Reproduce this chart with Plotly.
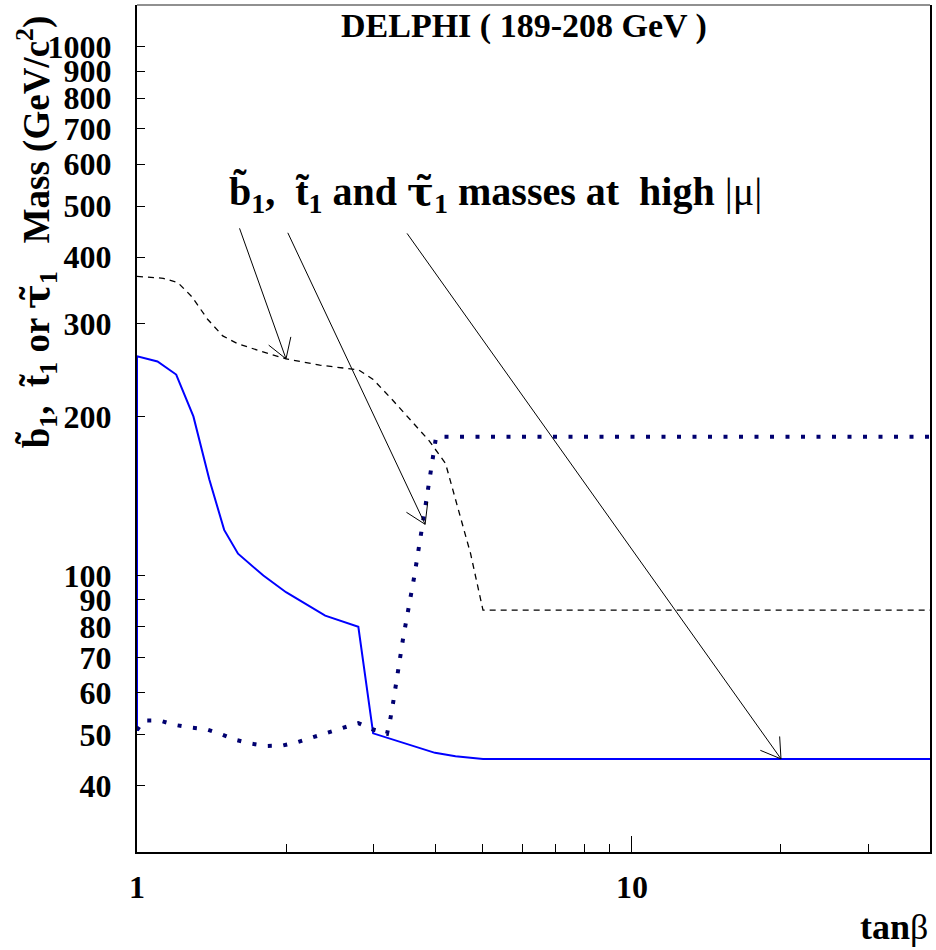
import numpy as np
import plotly.graph_objects as go

# tanb / mass values
tanb_blue = [1.0, 1.0, 1.1, 1.2, 1.3, 1.4, 1.5, 1.6, 1.8, 2.0, 2.4, 2.8, 3.0, 4.0, 4.4, 5.0, 40]
mass_blue = [50.8, 260, 254, 240, 200, 152, 122, 110, 100, 93, 84, 80, 50.3, 46.2, 45.5, 45, 45]

tanb_dash = [1.0, 1.13, 1.21, 1.29, 1.39, 1.49, 1.59, 1.77, 2.0, 2.34, 2.8, 3.0, 3.28, 3.6, 3.89, 4.2, 4.44, 4.72, 5.0, 40]
mass_dash = [368, 365, 358, 337, 305, 284, 275, 266, 257, 250, 245, 235, 215, 195, 180, 163, 135, 110, 86, 86]

tanb_dot = [1.0, 1.03, 1.11, 1.19, 1.28, 1.38, 1.48, 1.58, 1.70, 1.82, 1.97, 2.11, 2.26, 2.43, 2.60, 2.80,
            2.99, 3.2, 3.25, 3.29, 3.45, 3.63, 3.80, 3.98, 4.02, 40]
mass_dot = [51.0, 53.2, 53.2, 52.2, 51.6, 51.2, 50.1, 48.9, 48.1, 47.6, 47.7, 48.4, 49.4, 50.5, 51.6, 52.6,
            51.2, 50.2, 53.6, 57.3, 76.3, 99.3, 130, 172, 183, 183]

y_ticks = [40, 50, 60, 70, 80, 90, 100, 200, 300, 400, 500, 600, 700, 800, 900, 1000]
x_ticks = [1, 10]
x_minor = [2, 3, 4, 5, 6, 7, 8, 9, 20, 30]

# arrow tips (data) and tail offsets (px)
arrow_x = [2.0, 3.82, 20.0]
arrow_y = [257, 125, 45]
arrow_tail = [(-47, -132), (-138, -293), (-375, -527)]

FONT = "Liberation Serif"

fig = go.Figure()
fig.add_trace(go.Scatter(x=tanb_dash, y=mass_dash, mode="lines",
                         line=dict(color="black", width=1.3, dash="6px,5px")))
fig.add_trace(go.Scatter(x=tanb_blue, y=mass_blue, mode="lines",
                         line=dict(color="#0000ff", width=2)))
fig.add_trace(go.Scatter(x=tanb_dot, y=mass_dot, mode="lines",
                         line=dict(color="#000070", width=4, dash="4px,11.5px")))

tickfont = dict(family=FONT, size=32, color="black", weight="bold")
fig.update_layout(
    width=936, height=950,
    margin=dict(l=137, r=4, t=5, b=98),
    plot_bgcolor="white", paper_bgcolor="white",
    showlegend=False,
    xaxis=dict(type="log", range=[0, np.log10(40)], tickvals=x_ticks,
               ticktext=[str(v) for v in x_ticks],
               ticks="inside", ticklen=16, tickwidth=1, tickcolor="black",
               minor=dict(tickvals=x_minor, ticks="inside", ticklen=8, tickwidth=1,
                          tickcolor="black", showgrid=False),
               showline=True, linewidth=2, linecolor="black",
               showgrid=False, zeroline=False, tickfont=tickfont,
               ticklabelstandoff=6),
    yaxis=dict(type="log", range=[np.log10(30), np.log10(1200)], tickvals=y_ticks,
               ticktext=[str(v) for v in y_ticks],
               ticks="inside", ticklen=8, tickwidth=1, tickcolor="black",
               showline=True, linewidth=2, linecolor="black", mirror=True,
               showgrid=False, zeroline=False, tickfont=tickfont,
               ticklabelstandoff=17),
    yaxis2=dict(type="log", range=[np.log10(30), np.log10(1200)], overlaying="y",
                side="left", tickvals=[100, 1000], ticks="inside", ticklen=16,
                tickwidth=1, tickcolor="black", showticklabels=False,
                showline=False, showgrid=False, zeroline=False),
)

# thin top frame line
fig.add_shape(type="line", xref="paper", yref="paper", x0=0, x1=1, y0=1, y1=1,
              line=dict(color="#222", width=1.2))

nb = "\u00a0"
tau = '<span style="font-family:DejaVu Serif">\u03c4\u0303</span>'
ann = []
ann.append(dict(text="<b>DELPHI ( 189-208 GeV )</b>", xref="paper", yref="paper",
                x=0.488, y=0.975, xanchor="center", yanchor="middle", showarrow=False,
                font=dict(family=FONT, size=34, color="black")))
ann.append(dict(text="<b>b\u0303<sub>1</sub>," + nb * 2 + "t\u0303<sub>1</sub> and " + tau + "<sub>1</sub> masses at" + nb * 2 + "high </b>|\u03bc|",
                xref="paper", yref="paper", x=0.1132, y=0.778, xanchor="left", yanchor="middle",
                showarrow=False, font=dict(family=FONT, size=40, color="black")))
ann.append(dict(text="<b>b\u0303<sub>1</sub>," + nb * 2 + "t\u0303<sub>1</sub> or " + tau + "<sub>1</sub>" + nb * 3 + "Mass (GeV/c<sup>2</sup>)</b>",
                xref="paper", yref="paper", x=-0.127, y=0.732, xanchor="center", yanchor="middle",
                textangle=-90, showarrow=False, font=dict(family=FONT, size=37, color="black")))
ann.append(dict(text="<b>tan</b>\u03b2", xref="paper", yref="paper", x=1.0, y=-0.0886,
                xanchor="right", yanchor="middle", showarrow=False,
                font=dict(family=FONT, size=36, color="black")))

# arrows: long shaft plus open V head drawn as two short arms
for xt, yt, (ax, ay) in zip(arrow_x, arrow_y, arrow_tail):
    xl, yl = np.log10(xt), np.log10(yt)
    ann.append(dict(text="", x=xl, y=yl, xref="x", yref="y", ax=ax, ay=ay,
                    showarrow=True, arrowhead=0, arrowwidth=1, arrowcolor="black"))
    L = np.hypot(ax, ay)
    ux, uy = ax / L, ay / L
    for s in (1, -1):
        a = np.radians(32) * s
        rx = ux * np.cos(a) - uy * np.sin(a)
        ry = ux * np.sin(a) + uy * np.cos(a)
        ann.append(dict(text="", x=xl, y=yl, xref="x", yref="y", ax=24 * rx, ay=24 * ry,
                        showarrow=True, arrowhead=0, arrowwidth=1, arrowcolor="black"))
fig.update_layout(annotations=ann)

fig.write_html("out.html", config={"displayModeBar": False},
               post_script="document.body.style.margin='0px';")
